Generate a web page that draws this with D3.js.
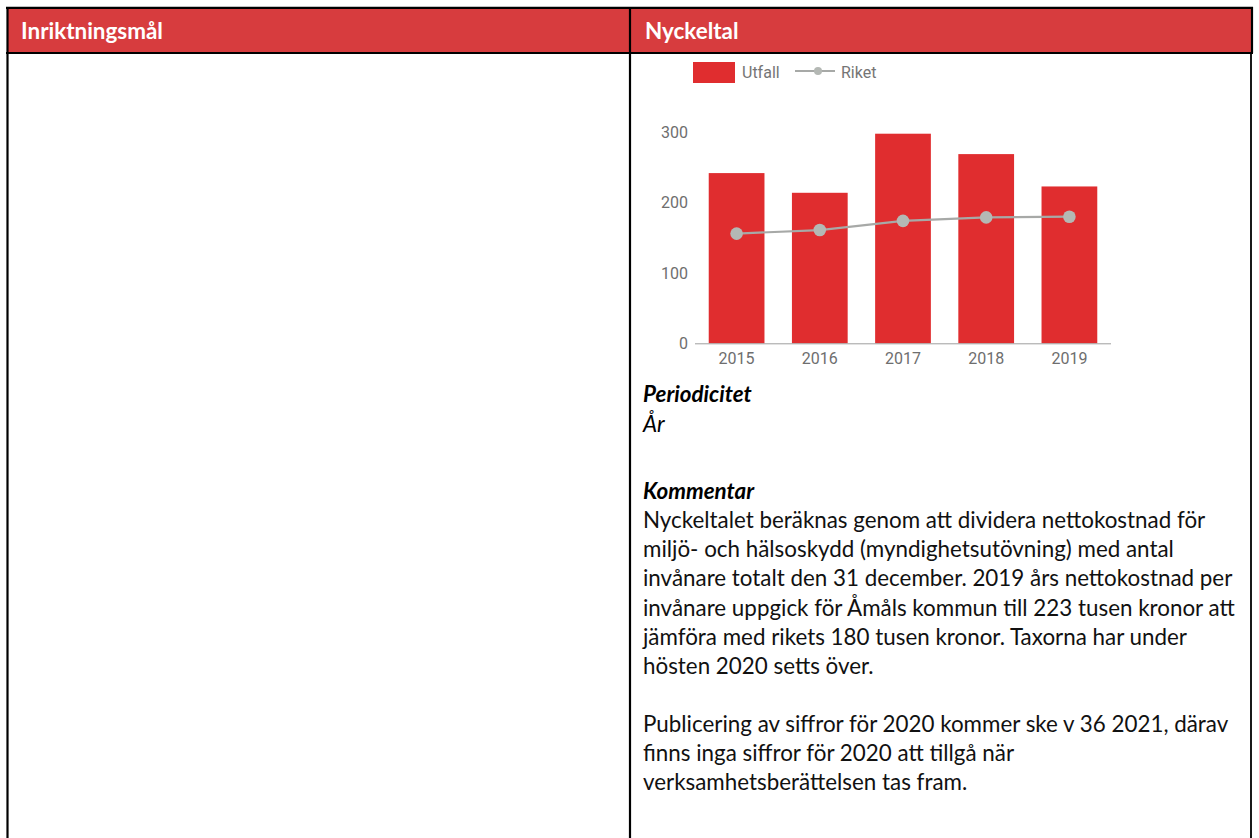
<!DOCTYPE html>
<html>
<head>
<meta charset="utf-8">
<script src="https://cdn.jsdelivr.net/npm/d3@7"></script>
<style>
  body { margin: 0; background: #fff; }
  svg { display: block; }
</style>
</head>
<body>
<script>
// chart data
var years = ['2015', '2016', '2017', '2018', '2019'];
var utfall = [242, 214, 298, 269, 223];
var riket = [156, 161, 174, 179, 180];
var yTicks = [0, 100, 200, 300];

// table text
var headers = ['Inriktningsmål', 'Nyckeltal'];
var kommentarLines = [
  'Nyckeltalet beräknas genom att dividera nettokostnad för',
  'miljö- och hälsoskydd (myndighetsutövning) med antal',
  'invånare totalt den 31 december. 2019 års nettokostnad per',
  'invånare uppgick för Åmåls kommun till 223 tusen kronor att',
  'jämföra med rikets 180 tusen kronor. Taxorna har under',
  'hösten 2020 setts över.'
];
var publiceringLines = [
  'Publicering av siffror för 2020 kommer ske v 36 2021, därav',
  'finns inga siffror för 2020 att tillgå när',
  'verksamhetsberättelsen tas fram.'
];

const W = 1259, H = 838;
const textFont = 'Lato, "Open Sans", sans-serif';
const chartFont = 'Roboto, sans-serif';

var svg = d3.select('body').append('svg')
  .attr('width', W)
  .attr('height', H);

// --- table ---
svg.append('rect')
  .attr('x', 8).attr('y', 8)
  .attr('width', 1243).attr('height', 45)
  .attr('fill', '#d73c3e');

var border = svg.append('g').attr('stroke', '#000').attr('stroke-width', 2.2);
border.append('line').attr('x1', 6).attr('x2', 1253).attr('y1', 7.8).attr('y2', 7.8);
border.append('line').attr('x1', 6).attr('x2', 1253).attr('y1', 53).attr('y2', 53);
border.append('line').attr('x1', 7.5).attr('x2', 7.5).attr('y1', 7).attr('y2', H);
border.append('line').attr('x1', 630).attr('x2', 630).attr('y1', 7).attr('y2', H);
border.append('line').attr('x1', 1252).attr('x2', 1252).attr('y1', 7).attr('y2', 53);
border.append('line').attr('x1', 1251).attr('x2', 1251).attr('y1', 53).attr('y2', H).attr('stroke-width', 1.8);

// fit a font size so that a given string gets a given width
function fitSize(str, weight, style, target) {
  var t = svg.append('text')
    .attr('font-family', textFont)
    .attr('font-size', 20)
    .attr('font-weight', weight)
    .attr('font-style', style)
    .text(str);
  var w = t.node().getComputedTextLength();
  t.remove();
  return 20 * target / w;
}

var headSize = fitSize(headers[0], 'bold', 'normal', 142);
svg.selectAll('text.head')
  .data(headers)
  .enter()
  .append('text')
  .attr('class', 'head')
  .attr('x', (d, i) => i == 0 ? 21 : 645)
  .attr('y', 38.5)
  .attr('fill', '#fff')
  .attr('font-family', textFont)
  .attr('font-weight', 'bold')
  .attr('font-size', headSize)
  .text(d => d);

var bodySize = fitSize(kommentarLines[3], 'normal', 'normal', 592);
var lineH = 29.2;
var tx = 643;

svg.append('text')
  .attr('x', tx).attr('y', 402)
  .attr('font-family', textFont).attr('font-size', bodySize)
  .attr('font-weight', 'bold').attr('font-style', 'italic')
  .text('Periodicitet');
svg.append('text')
  .attr('x', tx).attr('y', 432)
  .attr('font-family', textFont).attr('font-size', bodySize)
  .attr('font-style', 'italic')
  .text('År');
svg.append('text')
  .attr('x', tx).attr('y', 499)
  .attr('font-family', textFont).attr('font-size', bodySize)
  .attr('font-weight', 'bold').attr('font-style', 'italic')
  .text('Kommentar');

svg.selectAll('text.kom')
  .data(kommentarLines)
  .enter()
  .append('text')
  .attr('class', 'kom')
  .attr('x', tx)
  .attr('y', (d, i) => 528 + i * lineH)
  .attr('font-family', textFont)
  .attr('font-size', bodySize)
  .attr('fill', '#111')
  .text(d => d);

svg.selectAll('text.pub')
  .data(publiceringLines)
  .enter()
  .append('text')
  .attr('class', 'pub')
  .attr('x', tx)
  .attr('y', (d, i) => 732 + i * lineH)
  .attr('font-family', textFont)
  .attr('font-size', bodySize)
  .attr('fill', '#111')
  .text(d => d);

// --- chart ---
var xScale = d3.scaleBand()
  .domain(years)
  .range([695, 1111])
  .paddingInner(0.33)
  .paddingOuter(0.165);

var yScale = d3.scaleLinear()
  .domain([0, 300])
  .range([343.3, 132.3]);

var chart = svg.append('g').attr('font-family', chartFont);

chart.selectAll('rect.bar')
  .data(utfall)
  .enter()
  .append('rect')
  .attr('class', 'bar')
  .attr('x', (d, i) => xScale(years[i]))
  .attr('y', d => yScale(d))
  .attr('width', xScale.bandwidth())
  .attr('height', d => yScale(0) - yScale(d))
  .attr('fill', '#e02d2f');

var xAxis = d3.axisBottom(xScale).tickSize(0).tickPadding(9);
var gx = chart.append('g')
  .attr('transform', 'translate(0,' + yScale(0) + ')')
  .call(xAxis);
gx.select('.domain').attr('stroke', '#9e9e9e').attr('d', 'M695,0.5H1111');
gx.selectAll('text').attr('font-size', 16).attr('fill', '#6e6e6e').attr('font-family', chartFont);

var yAxis = d3.axisLeft(yScale).tickValues(yTicks).tickSize(0).tickPadding(7);
var gy = chart.append('g')
  .attr('transform', 'translate(695,0)')
  .call(yAxis);
gy.select('.domain').remove();
gy.selectAll('text').attr('font-size', 16).attr('fill', '#6e6e6e').attr('font-family', chartFont);

var line = d3.line()
  .x((d, i) => xScale(years[i]) + xScale.bandwidth() / 2)
  .y(d => yScale(d));

chart.append('path')
  .datum(riket)
  .attr('d', line)
  .attr('fill', 'none')
  .attr('stroke', '#a7a9a7')
  .attr('stroke-width', 2.2);

chart.selectAll('circle.riket')
  .data(riket)
  .enter()
  .append('circle')
  .attr('class', 'riket')
  .attr('cx', (d, i) => xScale(years[i]) + xScale.bandwidth() / 2)
  .attr('cy', d => yScale(d))
  .attr('r', 6.3)
  .attr('fill', '#b4b8b4');

// legend
var legend = chart.append('g');
legend.append('rect')
  .attr('x', 693).attr('y', 62)
  .attr('width', 42).attr('height', 21)
  .attr('fill', '#e02d2f');
legend.append('text')
  .attr('x', 742).attr('y', 78)
  .attr('font-size', 16).attr('fill', '#757575')
  .text('Utfall');
legend.append('line')
  .attr('x1', 795).attr('x2', 835)
  .attr('y1', 71).attr('y2', 71)
  .attr('stroke', '#a7a9a7').attr('stroke-width', 2);
legend.append('circle')
  .attr('cx', 818).attr('cy', 71).attr('r', 4)
  .attr('fill', '#b4b8b4');
legend.append('text')
  .attr('x', 841).attr('y', 78)
  .attr('font-size', 16).attr('fill', '#757575')
  .text('Riket');
</script>
</body>
</html>
